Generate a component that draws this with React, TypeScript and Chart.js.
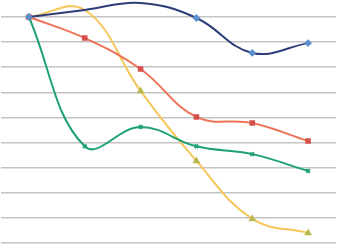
import React, { useEffect, useRef } from "react";
import { Chart, registerables } from "chart.js";
Chart.register(...registerables);

const categories = ["1", "2", "3", "4", "5", "6"];
const blueValues = [9.0, 9.28, 9.56, 8.96, 7.57, 7.96];
const orangeValues = [9.0, 8.16, 6.93, 5.02, 4.78, 4.06];
const greenValues = [9.0, 3.85, 4.62, 3.85, 3.54, 2.87];
const yellowValues = [9.0, 9.28, 6.05, 3.27, 0.96, 0.4];

export default function App() {
  const ref = useRef<HTMLCanvasElement>(null);
  useEffect(() => {
    if (!ref.current) return;
    const ds = (data: number[], color: string, pc: string, style: any) => ({
      data,
      borderColor: color,
      backgroundColor: pc,
      pointBackgroundColor: pc,
      pointBorderColor: pc,
      pointStyle: style,
      pointRadius: 2.5,
      borderWidth: 2,
      tension: 0.4,
      clip: false as any,
    });
    const chart = new Chart(ref.current, {
      type: "line",
      data: {
        labels: categories,
        datasets: [
          ds(blueValues, "#2C3E78", "#5B8FD0", "rectRot"),
          ds(orangeValues, "#EE7257", "#D4504A", "rect"),
          ds(greenValues, "#1FA271", "#1FA271", "crossRot"),
          ds(yellowValues, "#F6C65A", "#B5B84C", "triangle"),
        ],
      },
      options: {
        animation: false,
        responsive: false,
        maintainAspectRatio: false,
        layout: { autoPadding: false, padding: { top: 17, bottom: 2, left: 1, right: 2 } },
        plugins: { legend: { display: false }, tooltip: { enabled: false } },
        scales: {
          x: {
            display: false,
            offset: true,
          },
          y: {
            min: 0,
            max: 9,
            afterFit: (s: any) => {
              s.width = 0;
            },
            ticks: { display: false, stepSize: 1 },
            border: { display: false },
            grid: { color: "#C4C4C4", lineWidth: 1.5, drawTicks: false },
          },
        },
      },
    });
    return () => chart.destroy();
  }, []);
  return (
    <div style={{ position: "fixed", left: 0, top: 0, width: 338, height: 245, background: "#fff" }}>
      <canvas ref={ref} width={338} height={245} style={{ width: 338, height: 245 }} />
    </div>
  );
}
